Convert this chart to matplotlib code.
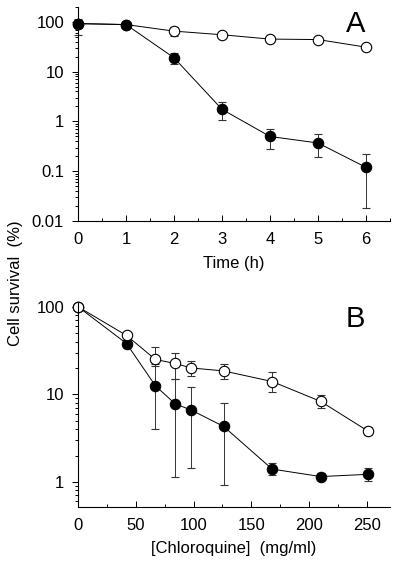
import matplotlib.pyplot as plt
import numpy as np

plt.rcParams['font.family'] = ['Liberation Sans', 'DejaVu Sans']

# panel A: time course
time_h = [0, 1, 2, 3, 4, 5, 6]
a_filled = [92, 88, 19, 1.75, 0.5, 0.37, 0.12]
a_filled_hi = [115, 95, 24, 2.5, 0.72, 0.55, 0.22]
a_filled_lo = [55, 80, 14, 1.05, 0.28, 0.19, 0.018]
a_open = [92, 88, 65, 55, 45, 44, 31]
a_open_hi = [110, 95, 80, 60, 50, 50, 35]
a_open_lo = [75, 82, 52, 50, 40, 38, 27]

# panel B: chloroquine dose
dose = [0, 42, 67, 84, 98, 126, 168, 210, 251]
b_filled = [100, 38, 12.5, 7.8, 6.6, 4.3, 1.4, 1.15, 1.22]
b_filled_hi = [100, 42, 22, 15, 12, 8, 1.65, 1.25, 1.45]
b_filled_lo = [100, 34, 4, 1.15, 1.45, 0.92, 1.2, 1.08, 1.02]
b_open = [100, 47, 25, 22.5, 20, 18.5, 14, 8.3, 3.8]
b_open_hi = [100, 52, 35, 30, 24, 22, 18, 9.8, 4.2]
b_open_lo = [100, 42, 21, 15, 16, 15, 10.5, 7, 3.4]

fig = plt.figure(figsize=(4, 5.67), dpi=100)
axA = fig.add_axes([0.195, 0.61, 0.78, 0.378])
axB = fig.add_axes([0.195, 0.106, 0.78, 0.36])


def draw(ax, x, y, hi, lo, filled):
    y = np.array(y)
    err = [y - np.array(lo), np.array(hi) - y]
    ax.errorbar(x, y, yerr=err, fmt='o-', color='black', lw=0.7,
                elinewidth=0.7, ecolor='#333333', capsize=3, capthick=0.7,
                ms=7.5, mfc='black' if filled else 'white', mec='black',
                mew=0.8, clip_on=False)


def style(ax):
    for s in ['top', 'right']:
        ax.spines[s].set_visible(False)
    for s in ['left', 'bottom']:
        ax.spines[s].set_linewidth(0.8)
    ax.tick_params(which='both', labelsize=12, width=0.7)
    ax.tick_params(axis='x', which='both', direction='in', pad=8)
    ax.tick_params(axis='y', which='both', direction='out')
    ax.tick_params(which='major', length=4)
    ax.tick_params(which='minor', length=2)
    ax.tick_params(axis='y', which='major', pad=6)


draw(axA, time_h, a_open, a_open_hi, a_open_lo, False)
draw(axA, time_h, a_filled, a_filled_hi, a_filled_lo, True)
axA.set_yscale('log')
axA.set_ylim(0.01, 200)
axA.set_xlim(0, 6.5)
axA.set_xticks(range(7))
axA.set_xticks(np.arange(0, 6.6, 0.5), minor=True)
axA.set_yticks([0.01, 0.1, 1, 10, 100])
axA.set_yticklabels(['0.01', '0.1', '1', '10', '100'])
axA.set_xlabel('Time (h)', fontsize=12, labelpad=6)
style(axA)
axA.text(0.89, 0.985, 'A', transform=axA.transAxes, fontsize=21,
         ha='center', va='top')

draw(axB, dose, b_filled, b_filled_hi, b_filled_lo, True)
draw(axB, dose, b_open, b_open_hi, b_open_lo, False)
axB.set_yscale('log')
axB.set_ylim(0.518, 111)
axB.set_xlim(0, 270)
axB.set_xticks([0, 50, 100, 150, 200, 250])
axB.set_xticks(np.arange(0, 271, 25), minor=True)
axB.set_yticks([1, 10, 100])
axB.set_yticklabels(['1', '10', '100'])
axB.set_xlabel('[Chloroquine]  (mg/ml)', fontsize=12, labelpad=6)
style(axB)
axB.text(0.89, 0.99, 'B', transform=axB.transAxes, fontsize=21,
         ha='center', va='top')

fig.text(0.038, 0.5, 'Cell survival  (%)', rotation=90, fontsize=12,
         ha='center', va='center')

fig.savefig('out.png', dpi=100)
